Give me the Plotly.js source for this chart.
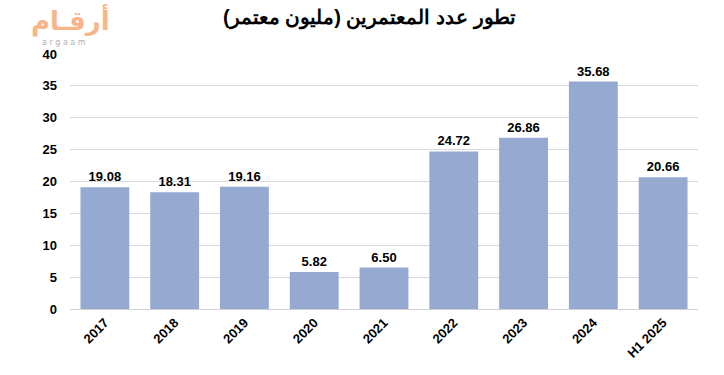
<!DOCTYPE html>
<html><head><meta charset="utf-8">
<script src="https://cdn.plot.ly/plotly-3.0.1.min.js"></script>
<style>body{margin:0;background:#fff}#c{width:724px;height:375px}</style>
</head><body><div id="c"></div>
<script>
const categories = ["2017","2018","2019","2020","2021","2022","2023","2024","H1 2025"];
const values = [19.08, 18.31, 19.16, 5.82, 6.50, 24.72, 26.86, 35.68, 20.66];
const labels = ["19.08","18.31","19.16","5.82","6.50","24.72","26.86","35.68","20.66"];
const yTicks = [0,5,10,15,20,25,30,35,40];

const trace = {
  type: "bar", x: categories, y: values,
  marker: {color: "#95A9D1"},
  text: labels, textposition: "outside", cliponaxis: false,
  textfont: {family: "Liberation Sans, Arial", size: 13, color: "#000"},
  texttemplate: "<b>%{text}</b>", hoverinfo: "skip"
};
const layout = {
  width: 724, height: 375,
  margin: {l: 70, r: 26, t: 54, b: 66},
  paper_bgcolor: "#fff", plot_bgcolor: "#fff",
  bargap: 0.3, showlegend: false,
  title: {text: "<b>تطور عدد المعتمرين (مليون معتمر)</b>", x: 0.51, xanchor: "center", y: 0.955, yanchor: "middle",
    font: {family: "Liberation Sans, Arial", size: 20, color: "#000"}},
  xaxis: {type: "category", tickangle: -45, showgrid: false, showline: true, linecolor: "#D0D0D0", linewidth: 1,
    ticks: "", tickfont: {family: "Liberation Sans, Arial", size: 13, color: "#000", weight: "bold"}},
  yaxis: {range: [0, 40], tickvals: yTicks, ticktext: yTicks.map(String), showgrid: true, gridcolor: "#D9D9D9",
    zeroline: false, ticks: "", ticklabelstandoff: 12,
    tickfont: {family: "Liberation Sans, Arial", size: 13, color: "#000", weight: "bold"}},
  annotations: [
    {text: "أرقـام", xref: "paper", yref: "paper", x: -0.066, y: 1.13, xanchor: "left", yanchor: "middle", showarrow: false,
     font: {family: "DejaVu Sans", size: 26, color: "#F7B689", weight: "bold"}},
    {text: "a r g a a m", xref: "paper", yref: "paper", x: -0.047, y: 1.045, xanchor: "left", yanchor: "middle", showarrow: false,
     font: {family: "DejaVu Sans", size: 8, color: "#B0B0B0"}}
  ]
};
Plotly.newPlot("c", [trace], layout, {displayModeBar: false, staticPlot: true});
</script></body></html>
